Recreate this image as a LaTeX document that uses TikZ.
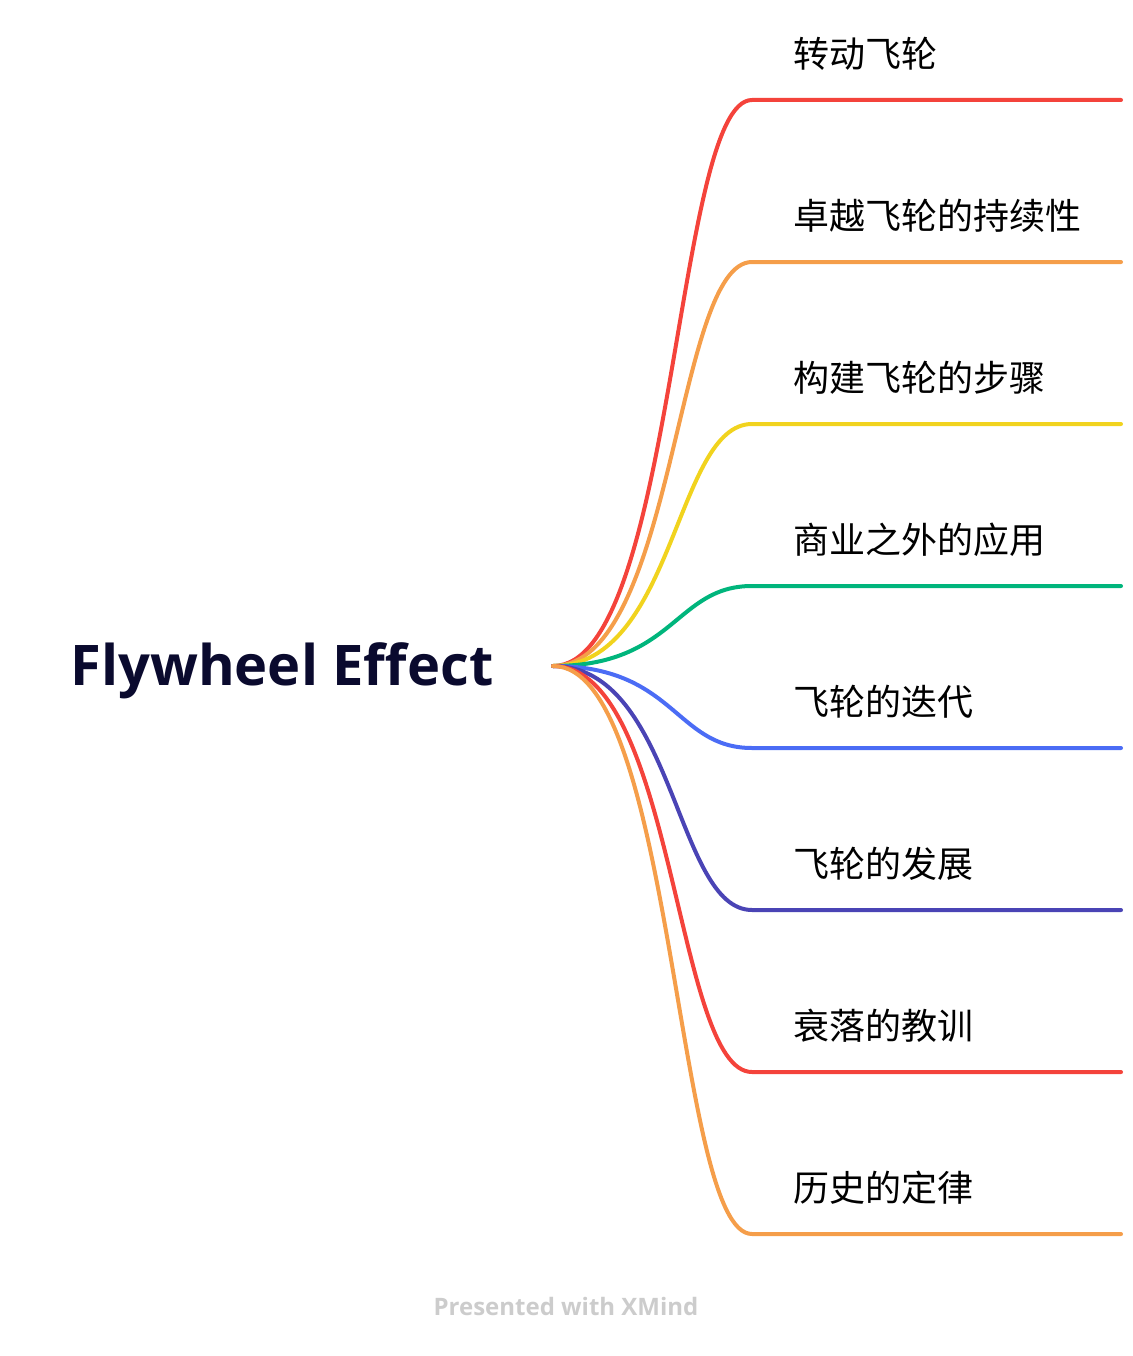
\documentclass[tikz,border=0pt]{standalone}
\usepackage{fontspec}
\setmainfont{Open Sans}
\newfontfamily\cjk{Noto Sans CJK SC}
\usetikzlibrary{positioning}
\definecolor{rootblue}{HTML}{0A0A2E}
\definecolor{brRed}{HTML}{F4433B}
\definecolor{brOrange}{HTML}{F59E4A}
\definecolor{brYellow}{HTML}{F1D31E}
\definecolor{brGreen}{HTML}{00B57C}
\definecolor{brBlue}{HTML}{4B6CF5}
\definecolor{brIndigo}{HTML}{4A44B5}
\definecolor{footgray}{HTML}{CCCCCC}
\tikzset{
  topic/.style={font=\fontsize{36}{40}\selectfont\cjk, anchor=west, inner sep=0pt},
  branch/.style={line width=4pt, line cap=round},
}
\begin{document}
\begin{tikzpicture}[x=1pt, y=-1pt]
  \useasboundingbox (0,0) rectangle (1132,1356);
  \node[font=\fontsize{56}{62}\selectfont\bfseries, text=rootblue] (root) at (282,671) {Flywheel Effect};
  \coordinate (hub) at (553,666);

  \foreach \i/\ly/\col/\txt in {
      1/100/brRed/转动飞轮,
      2/262/brOrange/卓越飞轮的持续性,
      3/424/brYellow/构建飞轮的步骤,
      4/586/brGreen/商业之外的应用,
      5/748/brBlue/飞轮的迭代,
      6/910/brIndigo/飞轮的发展,
      7/1072/brRed/衰落的教训,
      8/1234/brOrange/历史的定律}
  {
    \coordinate (s\i) at (752,\ly);
    \coordinate (e\i) at (1121,\ly);
    \node[topic] (t\i) at (793,\ly-46) {\txt};
    \draw[branch, draw=\col] (hub) .. controls (675,666) and (675,\ly) .. (s\i) -- (e\i);
  }

  \node[font=\fontsize{24}{28}\selectfont\bfseries, text=footgray] (foot) at (566,1306) {Presented with XMind};
\end{tikzpicture}
\end{document}
